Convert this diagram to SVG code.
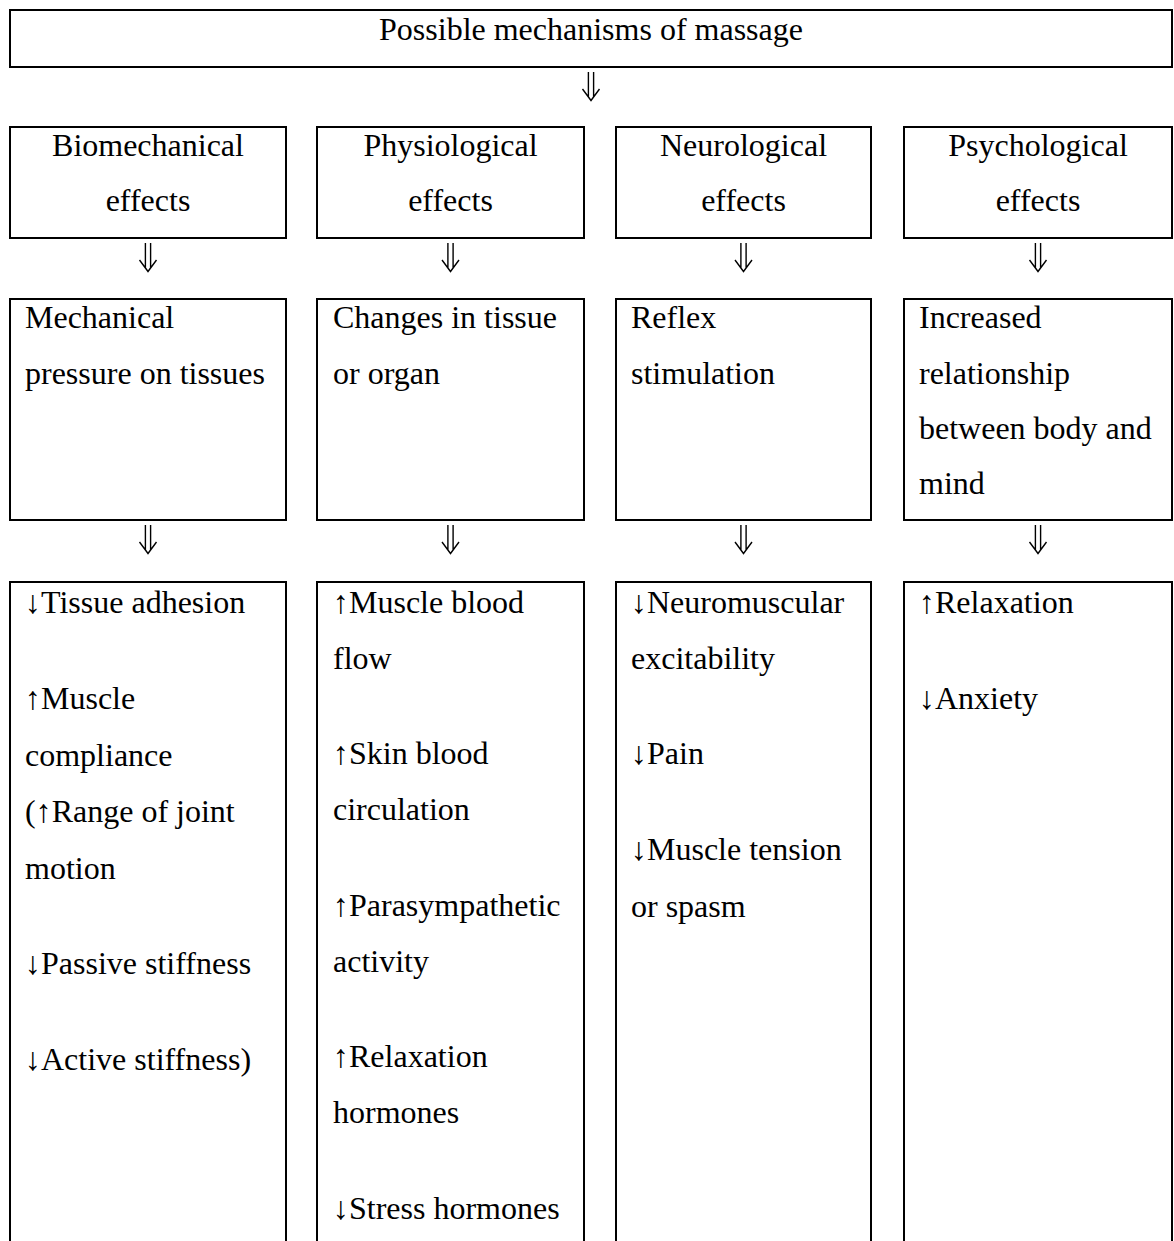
<svg xmlns="http://www.w3.org/2000/svg" width="1174" height="1241" viewBox="0 0 1174 1241">
<style>
  .box { fill: #ffffff; stroke: #000000; stroke-width: 2; }
  .t { font-family: "Liberation Serif", "Times New Roman", "DejaVu Serif", serif; font-size: 32px; fill: #000000; }
  .c { text-anchor: middle; }
  .arr { fill: none; stroke: #000000; stroke-width: 1.4; stroke-linejoin: miter; }
</style>
<defs>
  <path id="dbl" class="arr" d="M -2.6 0 V 25 M 2.6 0 V 25 M -8.5 17 L 0 28.5 L 8.5 17"/>
</defs>
<rect x="0" y="0" width="1174" height="1241" fill="#ffffff"/>

<g id="top">
  <rect class="box" x="10" y="10" width="1162" height="57"/>
  <text class="t c" x="591" y="40">Possible mechanisms of massage</text>
</g>

<g id="bio-head">
  <rect class="box" x="10" y="127" width="276" height="111"/>
  <text class="t c" x="148" y="156">Biomechanical</text>
  <text class="t c" x="148" y="211">effects</text>
</g>
<g id="phys-head">
  <rect class="box" x="317" y="127" width="267" height="111"/>
  <text class="t c" x="450.5" y="156">Physiological</text>
  <text class="t c" x="450.5" y="211">effects</text>
</g>
<g id="neuro-head">
  <rect class="box" x="616" y="127" width="255" height="111"/>
  <text class="t c" x="743.5" y="156">Neurological</text>
  <text class="t c" x="743.5" y="211">effects</text>
</g>
<g id="psych-head">
  <rect class="box" x="904" y="127" width="268" height="111"/>
  <text class="t c" x="1038" y="156">Psychological</text>
  <text class="t c" x="1038" y="211">effects</text>
</g>

<g id="bio-mech">
  <rect class="box" x="10" y="299" width="276" height="221"/>
  <text class="t" x="25" y="328">Mechanical</text>
  <text class="t" x="25" y="384">pressure on tissues</text>
</g>
<g id="phys-mech">
  <rect class="box" x="317" y="299" width="267" height="221"/>
  <text class="t" x="333" y="328">Changes in tissue</text>
  <text class="t" x="333" y="384">or organ</text>
</g>
<g id="neuro-mech">
  <rect class="box" x="616" y="299" width="255" height="221"/>
  <text class="t" x="631" y="328">Reflex</text>
  <text class="t" x="631" y="384">stimulation</text>
</g>
<g id="psych-mech">
  <rect class="box" x="904" y="299" width="268" height="221"/>
  <text class="t" x="919" y="328">Increased</text>
  <text class="t" x="919" y="384">relationship</text>
  <text class="t" x="919" y="439">between body and</text>
  <text class="t" x="919" y="494">mind</text>
</g>

<g id="bio-out">
  <rect class="box" x="10" y="582" width="276" height="700"/>
  <text class="t" x="25" y="613">↓Tissue adhesion</text>
  <text class="t" x="25" y="709">↑Muscle</text>
  <text class="t" x="25" y="766">compliance</text>
  <text class="t" x="25" y="822">(↑Range of joint</text>
  <text class="t" x="25" y="879">motion</text>
  <text class="t" x="25" y="974">↓Passive stiffness</text>
  <text class="t" x="25" y="1070">↓Active stiffness)</text>
</g>
<g id="phys-out">
  <rect class="box" x="317" y="582" width="267" height="700"/>
  <text class="t" x="333" y="613">↑Muscle blood</text>
  <text class="t" x="333" y="669">flow</text>
  <text class="t" x="333" y="764">↑Skin blood</text>
  <text class="t" x="333" y="820">circulation</text>
  <text class="t" x="333" y="916">↑Parasympathetic</text>
  <text class="t" x="333" y="972">activity</text>
  <text class="t" x="333" y="1067">↑Relaxation</text>
  <text class="t" x="333" y="1123">hormones</text>
  <text class="t" x="333" y="1219">↓Stress hormones</text>
</g>
<g id="neuro-out">
  <rect class="box" x="616" y="582" width="255" height="700"/>
  <text class="t" x="631" y="613">↓Neuromuscular</text>
  <text class="t" x="631" y="669">excitability</text>
  <text class="t" x="631" y="764">↓Pain</text>
  <text class="t" x="631" y="860">↓Muscle tension</text>
  <text class="t" x="631" y="917">or spasm</text>
</g>
<g id="psych-out">
  <rect class="box" x="904" y="582" width="268" height="700"/>
  <text class="t" x="919" y="613">↑Relaxation</text>
  <text class="t" x="919" y="709">↓Anxiety</text>
</g>

<g id="connectors">
  <use href="#dbl" x="591" y="72"/>
  <use href="#dbl" x="148" y="243"/>
  <use href="#dbl" x="450.5" y="243"/>
  <use href="#dbl" x="743.5" y="243"/>
  <use href="#dbl" x="1038" y="243"/>
  <use href="#dbl" x="148" y="525"/>
  <use href="#dbl" x="450.5" y="525"/>
  <use href="#dbl" x="743.5" y="525"/>
  <use href="#dbl" x="1038" y="525"/>
</g>
</svg>
